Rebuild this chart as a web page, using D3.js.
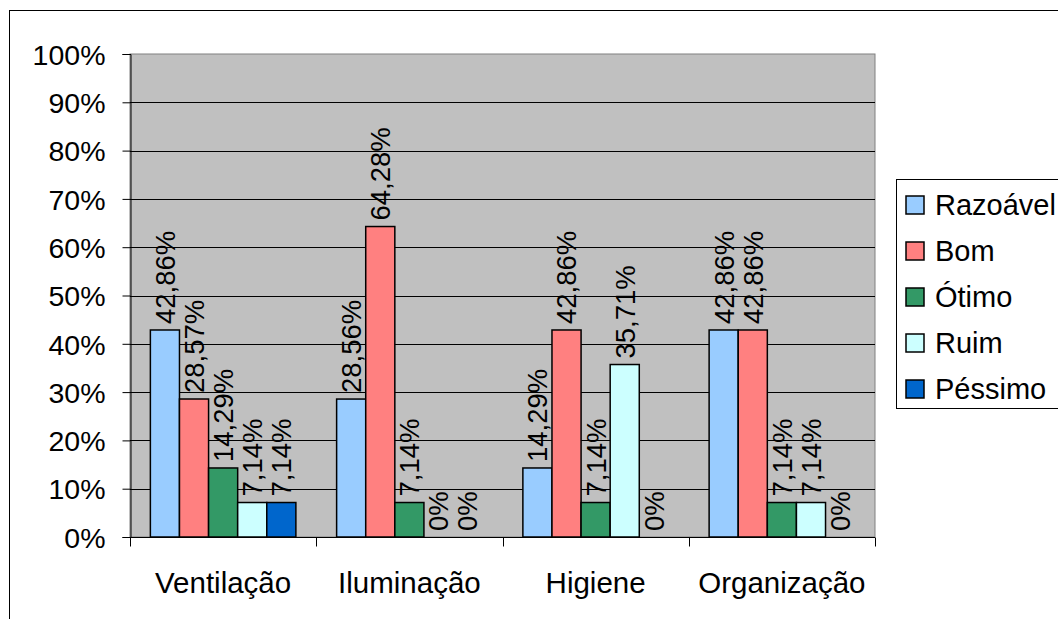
<!DOCTYPE html>
<html>
<head>
<meta charset="utf-8">
<script src="https://cdn.jsdelivr.net/npm/d3@7"></script>
<style>
  body { margin: 0; background: #fff; }
  text { font-family: "Liberation Sans", Arial, sans-serif; fill: #000; }
</style>
</head>
<body>
<div id="chart"></div>
<script>
// chart data
var categories = ["Ventilação", "Iluminação", "Higiene", "Organização"];
var seriesNames = ["Razoável", "Bom", "Ótimo", "Ruim", "Péssimo"];
var razoavel = [42.86, 28.56, 14.29, 42.86];
var bom = [28.57, 64.28, 42.86, 42.86];
var otimo = [14.29, 7.14, 7.14, 7.14];
var ruim = [7.14, 0, 35.71, 7.14];
var pessimo = [7.14, 0, 0, 0];
var yTicks = [0, 10, 20, 30, 40, 50, 60, 70, 80, 90, 100];
var colors = ["#99ccff", "#ff8080", "#339966", "#ccffff", "#0066cc"];

var seriesValues = [razoavel, bom, otimo, ruim, pessimo];

var width = 1058, height = 619;
var plot = {left: 130, right: 875, top: 54, bottom: 537};

var svg = d3.select("#chart").append("svg")
    .attr("width", width)
    .attr("height", height);

// outer frame
svg.append("rect")
    .attr("x", 9.5).attr("y", 10.5)
    .attr("width", width + 10).attr("height", height + 10)
    .attr("fill", "#fff").attr("stroke", "#000").attr("stroke-width", 1);

var x0 = d3.scaleBand().domain(categories).range([plot.left, plot.right]);
var x1 = d3.scaleBand().domain(d3.range(seriesNames.length))
    .range([0, x0.bandwidth()]).paddingOuter(0.7);
var y = d3.scaleLinear().domain([0, 100]).range([plot.bottom, plot.top]);

function fmt(v) {
  if (v === 0) return "0%";
  return v.toFixed(2).replace(".", ",") + "%";
}

// plot background
svg.append("rect")
    .attr("x", plot.left).attr("y", plot.top)
    .attr("width", plot.right - plot.left).attr("height", plot.bottom - plot.top)
    .attr("fill", "#c0c0c0").attr("stroke", "#808080");

// gridlines
svg.append("g").selectAll("line")
    .data(yTicks.slice(1, -1))
    .enter().append("line")
    .attr("x1", plot.left).attr("x2", plot.right)
    .attr("y1", function(d) { return Math.round(y(d)) + 0.5; })
    .attr("y2", function(d) { return Math.round(y(d)) + 0.5; })
    .attr("stroke", "#000").attr("stroke-width", 1);

// y axis
var yAxis = svg.append("g")
    .attr("transform", "translate(" + (plot.left + 0.5) + ",0)")
    .call(d3.axisLeft(y).tickValues(yTicks).tickSize(8).tickPadding(17)
      .tickFormat(function(d) { return d + "%"; }));
yAxis.selectAll("text").style("font-size", "28.5px").attr("dy", "0.36em");
yAxis.select(".domain").attr("stroke", "#000");

// x axis
var xAxis = svg.append("g")
    .attr("transform", "translate(0," + (plot.bottom + 0.5) + ")");
xAxis.append("line")
    .attr("x1", plot.left).attr("x2", plot.right)
    .attr("stroke", "#000");
var bounds = categories.map(function(c) { return x0(c); }).concat([plot.right]);
xAxis.selectAll(".tk").data(bounds).enter().append("line")
    .attr("x1", function(d) { return Math.round(d) + 0.5; })
    .attr("x2", function(d) { return Math.round(d) + 0.5; })
    .attr("y1", 0).attr("y2", 9)
    .attr("stroke", "#000");
xAxis.selectAll(".cat").data(categories).enter().append("text")
    .attr("x", function(d) { return x0(d) + x0.bandwidth() / 2; })
    .attr("y", 55)
    .attr("text-anchor", "middle")
    .style("font-size", "29.5px")
    .text(function(d) { return d; });

// bars
var groups = svg.append("g").selectAll("g")
    .data(categories)
    .enter().append("g")
    .attr("transform", function(d) { return "translate(" + x0(d) + ",0)"; });

var cells = groups.selectAll("g")
    .data(function(c, ci) {
      return seriesValues.map(function(vals, si) { return {s: si, v: vals[ci]}; });
    })
    .enter().append("g");

cells.filter(function(d) { return d.v > 0; })
  .append("rect")
    .attr("x", function(d) { return x1(d.s); })
    .attr("y", function(d) { return y(d.v); })
    .attr("width", x1.bandwidth())
    .attr("height", function(d) { return y(0) - y(d.v); })
    .attr("fill", function(d) { return colors[d.s]; })
    .attr("stroke", "#000").attr("stroke-width", 1.5);

cells.append("text")
    .attr("transform", function(d) {
      var cx = x1(d.s) + x1.bandwidth() / 2;
      return "translate(" + cx + "," + (y(d.v) - 6) + ") rotate(-90)";
    })
    .attr("dy", "0.36em")
    .style("font-size", "27.5px")
    .text(function(d) { return fmt(d.v); });

// legend
var legend = svg.append("g").attr("transform", "translate(896,179)");
legend.append("rect")
    .attr("x", 0.5).attr("y", 0.5)
    .attr("width", 170).attr("height", 229)
    .attr("fill", "#fff").attr("stroke", "#000");
var items = legend.selectAll(".item").data(seriesNames)
    .enter().append("g")
    .attr("transform", function(d, i) { return "translate(0," + (17 + i * 46) + ")"; });
items.append("rect")
    .attr("x", 10).attr("y", 0).attr("width", 18).attr("height", 18)
    .attr("fill", function(d, i) { return colors[i]; })
    .attr("stroke", "#000").attr("stroke-width", 1.5);
items.append("text")
    .attr("x", 39).attr("y", 19)
    .style("font-size", "29px")
    .text(function(d) { return d; });
</script>
</body>
</html>
